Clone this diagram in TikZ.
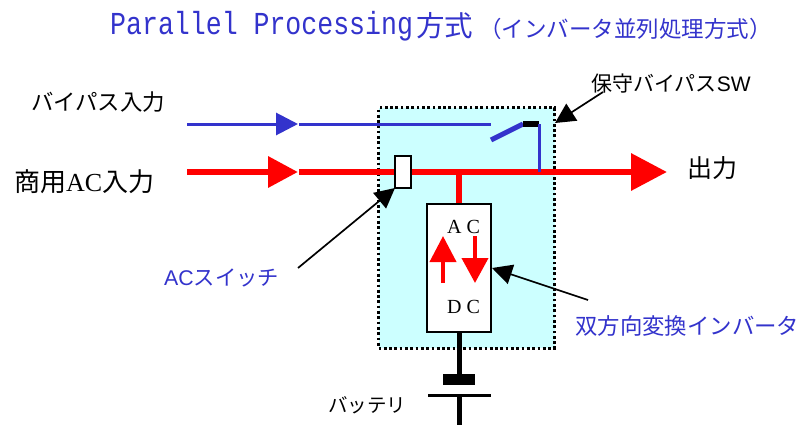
\documentclass[tikz,border=0pt]{standalone}
\usepackage{fontspec}
\setmainfont{Liberation Sans}
\newfontfamily\jp{Noto Sans CJK JP}
\newfontfamily\monof{Liberation Mono}
\newfontfamily\serif{Liberation Serif}
\usetikzlibrary{arrows.meta}
\definecolor{tblue}{HTML}{3333CC}
\definecolor{tred}{HTML}{FF0000}
\definecolor{tcyan}{HTML}{CCFFFF}
\tikzset{
  lbl/.style={inner sep=0pt,anchor=west,text=black},
  bluelbl/.style={lbl,text=tblue},
  leader/.style={draw=black,line width=1.7pt,-{Triangle[length=20pt,width=20pt]}},
  wbox/.style={draw=black,line width=2pt,fill=white,inner sep=0pt}
}
\begin{document}
\begin{tikzpicture}[x=1pt,y=-1pt]
\useasboundingbox (0,0) rectangle (802,425);
\fill[white] (0,0) rectangle (802,425);
% title
\node[bluelbl] (t1) at (110,26) {\fontsize{32}{32}\selectfont\scalebox{0.83}[1]{\monof Parallel Processing}};
\node[bluelbl] (t2) at (416,26) {\fontsize{28.5}{28}\selectfont\jp 方式};
\node[bluelbl] (t3) at (479,29) {\fontsize{22.5}{22}\selectfont\jp （インバータ並列処理方式）};
% unit box
\node[draw=black,fill=tcyan,line width=3pt,dash pattern=on 2.7pt off 2.6pt,inner sep=0pt,minimum width=176pt,minimum height=240pt] (unit) at (466.5,228) {};
% coordinates
\coordinate (bs) at (187,124);
\coordinate (bm) at (298,124);
\coordinate (bn) at (299,124);
\coordinate (be) at (491,124);
\coordinate (sa) at (491,140);
\coordinate (sb) at (523,124);
\coordinate (sc) at (539,124);
\coordinate (sd) at (539,172);
\coordinate (rs) at (187,172);
\coordinate (rm) at (298,172);
\coordinate (rn) at (299,172);
\coordinate (re) at (667,172);
\coordinate (bat) at (459,425);
\coordinate (tap) at (459,172);
% bypass
\draw[tblue,line width=3pt,-{Triangle[length=22pt,width=22pt]}] (bs) -- (bm);
\draw[tblue,line width=3pt] (bn) -- (be);
\draw[tblue,line width=5pt] (sa) -- (sb);
\draw[black,line width=5.5pt] (sb) -- (sc);
% AC
\draw[tred,line width=6.5pt,-{Triangle[length=30pt,width=30pt]}] (rs) -- (rm);
\draw[tred,line width=6.5pt,-{Triangle[length=36pt,width=36pt]}] (rn) -- (re);
\draw[tblue,line width=3pt] (sc) -- (sd);
\draw[tred,line width=6pt] (tap) -- (459,204);
\node[wbox,minimum width=16pt,minimum height=32pt] (acsw) at (403,172) {};
% inverter
\node[wbox,minimum width=64pt,minimum height=128pt] (inv) at (459,268) {};
\node[inner sep=0pt,text=black] (ac) at (463.5,227) {\fontsize{20}{20}\selectfont\serif A C};
\node[inner sep=0pt,text=black] (dc) at (463.5,307) {\fontsize{20}{20}\selectfont\serif D C};
\draw[tred,line width=4pt,-{Triangle[length=26pt,width=26pt]}] (443,283) -- (443,236);
\draw[tred,line width=4pt,-{Triangle[length=25pt,width=26pt]}] (475,236) -- (475,283);
% battery
\draw[black,line width=5pt] (inv.south) -- (459,376);
\fill[black] (443,374) rectangle (475,385);
\draw[black,line width=2.5pt] (428,395.5) -- (491,395.5);
\draw[black,line width=5pt] (459,395) -- (bat);
% labels
\node[lbl] (l1) at (31,102) {\fontsize{22.4}{22}\selectfont\jp バイパス入力};
\node[lbl] (l2) at (14,182) {\fontsize{26}{26}\selectfont\jp 商用{\serif AC}入力};
\node[lbl] (l3) at (687,168) {\fontsize{25}{25}\selectfont\jp 出力};
\node[bluelbl] (l4) at (164,278) {\fontsize{21.3}{21}\selectfont AC{\jp スイッチ}};
\node[bluelbl] (l5) at (575,326) {\fontsize{22.4}{22}\selectfont\jp 双方向変換インバータ};
\node[lbl] (l6) at (591,84) {\fontsize{21}{21}\selectfont\jp 保守バイパス{\fontspec{Liberation Sans}SW}};
\node[lbl] (l7) at (328,405) {\fontsize{19.5}{19.5}\selectfont\jp バッテリ};
% leaders
\coordinate (ld1) at (603,92);
\coordinate (ld2) at (298,268);
\coordinate (ld3) at (588,300);
\coordinate (lt1) at (555,123);
\coordinate (lt2) at (395,188);
\coordinate (lt3) at (492,268);
\draw[leader] (ld1) -- (lt1);
\draw[leader] (ld2) -- (lt2);
\draw[leader] (ld3) -- (lt3);
\end{tikzpicture}
\end{document}
